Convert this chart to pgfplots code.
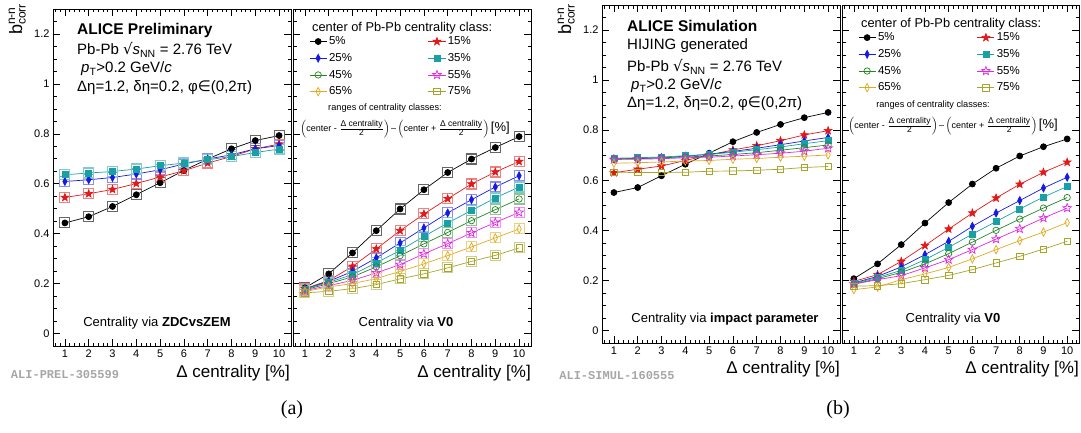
\documentclass[border=0pt]{standalone}
\usepackage{fontspec}
\setmainfont{Liberation Sans}
\newfontfamily\dejavu{DejaVu Sans}
\newfontfamily\monof{Liberation Mono}
\newfontfamily\seriff{Liberation Serif}
\usepackage{pgfplots}
\pgfplotsset{compat=1.18}
\usepackage{pgfplotstable}
\usetikzlibrary{plotmarks}

\newcommand\fs[1]{\fontsize{#1}{#1}\selectfont}

\definecolor{cA}{RGB}{0,0,0}
\definecolor{cB}{RGB}{225,25,25}
\definecolor{cC}{RGB}{25,25,230}
\definecolor{cD}{RGB}{25,160,165}
\definecolor{cE}{RGB}{35,135,35}
\definecolor{cF}{RGB}{225,40,225}
\definecolor{cG}{RGB}{225,170,30}
\definecolor{cH}{RGB}{165,165,40}

% filled and open five-pointed stars
\pgfdeclareplotmark{fstar}{%
  \pgfpathmoveto{\pgfpointpolar{90}{\pgfplotmarksize}}%
  \pgfpathlineto{\pgfpointpolar{126}{0.42\pgfplotmarksize}}%
  \pgfpathlineto{\pgfpointpolar{162}{\pgfplotmarksize}}%
  \pgfpathlineto{\pgfpointpolar{198}{0.42\pgfplotmarksize}}%
  \pgfpathlineto{\pgfpointpolar{234}{\pgfplotmarksize}}%
  \pgfpathlineto{\pgfpointpolar{270}{0.42\pgfplotmarksize}}%
  \pgfpathlineto{\pgfpointpolar{306}{\pgfplotmarksize}}%
  \pgfpathlineto{\pgfpointpolar{342}{0.42\pgfplotmarksize}}%
  \pgfpathlineto{\pgfpointpolar{18}{\pgfplotmarksize}}%
  \pgfpathlineto{\pgfpointpolar{54}{0.42\pgfplotmarksize}}%
  \pgfpathclose\pgfusepathqfillstroke}
\pgfdeclareplotmark{ostar}{%
  \pgfpathmoveto{\pgfpointpolar{90}{\pgfplotmarksize}}%
  \pgfpathlineto{\pgfpointpolar{126}{0.42\pgfplotmarksize}}%
  \pgfpathlineto{\pgfpointpolar{162}{\pgfplotmarksize}}%
  \pgfpathlineto{\pgfpointpolar{198}{0.42\pgfplotmarksize}}%
  \pgfpathlineto{\pgfpointpolar{234}{\pgfplotmarksize}}%
  \pgfpathlineto{\pgfpointpolar{270}{0.42\pgfplotmarksize}}%
  \pgfpathlineto{\pgfpointpolar{306}{\pgfplotmarksize}}%
  \pgfpathlineto{\pgfpointpolar{342}{0.42\pgfplotmarksize}}%
  \pgfpathlineto{\pgfpointpolar{18}{\pgfplotmarksize}}%
  \pgfpathlineto{\pgfpointpolar{54}{0.42\pgfplotmarksize}}%
  \pgfpathclose\pgfusepathqstroke}

\pgfplotsset{
  alice/.style={
    scale only axis, width=238pt, height=337pt, anchor=south west,
    xmin=0.5, xmax=10.5, ymin=-0.05, ymax=1.3,
    xtick={1,2,3,4,5,6,7,8,9,10},
    xticklabels={1,2,3,4,5,6,7,8,9,10},
    minor xtick={0.6,0.8,...,10.4},
    ytick={0,0.2,0.4,0.6,0.8,1,1.2},
    minor ytick={-0.05,0,...,1.3},
    tick align=inside, major tick length=7pt, minor tick length=3.5pt,
    tick style={black, line width=0.6pt},
    axis line style={line width=0.8pt},
    ticklabel style={font=\fs{11}},
    /pgf/number format/assume math mode=true,
  },
  s5/.style={cA, line width=0.7pt, mark=*, mark size=3pt, mark options={solid}},
  s15/.style={cB, line width=0.7pt, mark=fstar, mark size=4pt, mark options={solid}},
  s25/.style={cC, line width=0.7pt, mark=diamond*, mark size=4pt, mark options={solid, xscale=0.7}},
  s35/.style={cD, line width=0.7pt, mark=square*, mark size=3pt, mark options={solid}},
  s45/.style={cE, line width=0.7pt, mark=o, mark size=3.2pt, mark options={solid}},
  s55/.style={cF, line width=0.7pt, mark=ostar, mark size=4.5pt, mark options={solid}},
  s65/.style={cG, line width=0.7pt, mark=diamond, mark size=4.2pt, mark options={solid, xscale=0.7}},
  s75/.style={cH, line width=0.7pt, mark=square, mark size=3.2pt, mark options={solid}},
  bx/.style={only marks, forget plot, mark=square, mark size=5pt, line width=1.1pt},
  b5/.style={bx, black!60},
  b15/.style={bx, cB!55},
  b25/.style={bx, cC!50},
  b35/.style={bx, cD!55},
  b45/.style={bx, cE!50},
  b55/.style={bx, cF!50},
  b65/.style={bx, cG!55},
  b75/.style={bx, cH!55},
  cleg/.style={
    legend columns=2, legend cell align=left,
    legend style={draw=none, fill=none, anchor=north west, font=\fs{11.5},
      row sep=3.2pt,
      /tikz/every even column/.append style={column sep=74pt}},
  },
}

% (a) centrality via ZDCvsZEM
\pgfplotstableread{
x s5 s15 s25 s35
1 0.443 0.545 0.609 0.636
2 0.468 0.560 0.616 0.643
3 0.509 0.577 0.625 0.649
4 0.556 0.601 0.639 0.659
5 0.604 0.627 0.656 0.672
6 0.653 0.652 0.679 0.683
7 0.699 0.683 0.699 0.696
8 0.740 0.709 0.716 0.709
9 0.773 0.740 0.740 0.725
10 0.793 0.759 0.753 0.739
}\tabAL

% (a) centrality via V0
\pgfplotstableread{
x s5 s15 s25 s35 s45 s55 s65 s75
1 0.183 0.180 0.178 0.178 0.175 0.172 0.168 0.163
2 0.239 0.212 0.209 0.205 0.200 0.192 0.187 0.169
3 0.323 0.269 0.249 0.236 0.227 0.213 0.200 0.180
4 0.412 0.339 0.303 0.283 0.267 0.243 0.220 0.196
5 0.499 0.412 0.363 0.333 0.312 0.276 0.249 0.219
6 0.576 0.479 0.423 0.389 0.359 0.319 0.279 0.239
7 0.645 0.540 0.483 0.443 0.405 0.360 0.312 0.263
8 0.699 0.599 0.536 0.493 0.452 0.403 0.347 0.289
9 0.745 0.647 0.587 0.543 0.496 0.445 0.383 0.313
10 0.789 0.689 0.632 0.587 0.539 0.485 0.419 0.343
}\tabAR

% (b) centrality via impact parameter
\pgfplotstableread{
x s5 s15 s25 s35 s45 s55 s65 s75
1 0.551 0.630 0.685 0.688 0.686 0.683 0.668 0.632
2 0.571 0.644 0.686 0.690 0.687 0.684 0.670 0.631
3 0.618 0.657 0.690 0.693 0.690 0.686 0.673 0.631
4 0.664 0.679 0.696 0.698 0.693 0.690 0.677 0.632
5 0.708 0.701 0.704 0.703 0.697 0.692 0.679 0.636
6 0.754 0.721 0.715 0.712 0.703 0.697 0.684 0.637
7 0.791 0.738 0.728 0.722 0.710 0.702 0.687 0.640
8 0.823 0.758 0.742 0.733 0.720 0.708 0.692 0.644
9 0.850 0.781 0.757 0.746 0.730 0.716 0.696 0.651
10 0.871 0.798 0.771 0.758 0.741 0.728 0.701 0.655
}\tabBL

% (b) centrality via V0
\pgfplotstableread{
x s5 s15 s25 s35 s45 s55 s65 s75
1 0.207 0.196 0.190 0.188 0.185 0.185 0.163 0.177
2 0.266 0.223 0.216 0.212 0.207 0.203 0.174 0.179
3 0.343 0.276 0.254 0.240 0.232 0.219 0.203 0.187
4 0.429 0.339 0.303 0.283 0.266 0.250 0.226 0.203
5 0.511 0.405 0.356 0.332 0.307 0.283 0.252 0.220
6 0.585 0.469 0.416 0.385 0.353 0.323 0.286 0.243
7 0.648 0.529 0.469 0.435 0.400 0.365 0.323 0.270
8 0.697 0.584 0.519 0.485 0.445 0.406 0.359 0.296
9 0.734 0.632 0.569 0.533 0.489 0.449 0.393 0.325
10 0.765 0.672 0.612 0.575 0.531 0.489 0.431 0.356
}\tabBR

\newcommand\ylab{{\fs{18}b}\rlap{\raisebox{7pt}{\fs{12}n-n}}\raisebox{-3.5pt}{\fs{12}corr}}
\newcommand\xlab{\fs{17}Δ centrality [\%]}
\newcommand\rs{{\dejavu √}\textit{s}\textsubscript{NN}}
\newcommand\cuts{Δη=1.2, δη=0.2, φ{\dejavu ∈}(0,2π)}
\newcommand\fr{\frac{\mbox{\fs{8.5}Δ centrality}}{\mbox{\fs{8.5}2}}}
\newcommand\rng{\fs{9}$\left(\mbox{center - }\fr\right)$\,–\,$\left(\mbox{center + }\fr\right)$\,{\fs{13}[\%]}}

\begin{document}
\begin{tikzpicture}
\useasboundingbox (0,0) rectangle (1081pt,432pt);

% ---- (a) left
\begin{axis}[alice, at={(53pt,86pt)}, yticklabels={0,0.2,0.4,0.6,0.8,1,1.2}]
\pgfplotsinvokeforeach{5,15,25,35}{\addplot[b#1] table[x=x,y=s#1]{\tabAL};}
\pgfplotsinvokeforeach{5,15,25,35}{\addplot[s#1] table[x=x,y=s#1]{\tabAL};}
\end{axis}

% ---- (a) right
\begin{axis}[alice, at={(293pt,86pt)}, yticklabels={}, cleg,
  legend style={at={(0.055,0.93)}},
  legend entries={5\%,15\%,25\%,35\%,45\%,55\%,65\%,75\%}]
\pgfplotsinvokeforeach{5,15,25,35,45,55,65,75}{\addplot[b#1] table[x=x,y=s#1]{\tabAR};}
\pgfplotsinvokeforeach{5,15,25,35,45,55,65,75}{\addplot[s#1] table[x=x,y=s#1]{\tabAR};}
\end{axis}

% ---- (b) left
\begin{axis}[alice, at={(602pt,89pt)}, height=338pt, yticklabels={0,0.2,0.4,0.6,0.8,1,1.2}]
\pgfplotsinvokeforeach{5,15,25,35,45,55,65,75}{\addplot[s#1] table[x=x,y=s#1]{\tabBL};}
\end{axis}

% ---- (b) right
\begin{axis}[alice, at={(842pt,89pt)}, width=237pt, height=338pt, yticklabels={}, cleg,
  legend style={at={(0.055,0.93)}},
  legend entries={5\%,15\%,25\%,35\%,45\%,55\%,65\%,75\%}]
\pgfplotsinvokeforeach{5,15,25,35,45,55,65,75}{\addplot[s#1] table[x=x,y=s#1]{\tabBR};}
\end{axis}

% ---- texts (a)
\node[rotate=90, anchor=base west, inner sep=0] at (22pt,397pt) {\ylab};
\node[anchor=west, inner sep=0, font=\fs{15.5}\bfseries] at (77pt,402pt) {ALICE Preliminary};
\node[anchor=west, inner sep=0, font=\fs{15}] at (77pt,382pt) {Pb-Pb \rs\ = 2.76 TeV};
\node[anchor=west, inner sep=0, font=\fs{15}] at (81pt,363pt) {\textit{p}\textsubscript{T}>0.2 GeV/\textit{c}};
\node[anchor=west, inner sep=0, font=\fs{15}] at (77pt,344pt) {\cuts};
\node[anchor=west, inner sep=0, font=\fs{12.8}] at (312pt,404pt) {center of Pb-Pb centrality class:};
\node[inner sep=0, font=\fs{9.2}] at (385pt,324pt) {ranges of centrality classes:};
\node[inner sep=0] at (405pt,303pt) {\rng};
\node[inner sep=0, font=\fs{13}] at (157pt,109pt) {Centrality via \textbf{ZDCvsZEM}};
\node[inner sep=0, font=\fs{13}] at (406pt,109pt) {Centrality via \textbf{V0}};
\node[anchor=east, inner sep=0] at (290pt,59pt) {\xlab};
\node[anchor=east, inner sep=0] at (531pt,59pt) {\xlab};
\node[inner sep=0, font=\monof\fs{12}\bfseries, text=black!35] at (65pt,57pt) {ALI-PREL-305599};
\node[inner sep=0, font=\seriff\fs{20}] at (292pt,22pt) {(a)};

% ---- texts (b)
\node[rotate=90, anchor=base west, inner sep=0] at (571pt,397pt) {\ylab};
\node[anchor=west, inner sep=0, font=\fs{15.5}\bfseries] at (627pt,406pt) {ALICE Simulation};
\node[anchor=west, inner sep=0, font=\fs{15}] at (627pt,386pt) {HIJING generated};
\node[anchor=west, inner sep=0, font=\fs{15}] at (627pt,365pt) {Pb-Pb \rs\ = 2.76 TeV};
\node[anchor=west, inner sep=0, font=\fs{15}] at (631pt,346pt) {\textit{p}\textsubscript{T}>0.2 GeV/\textit{c}};
\node[anchor=west, inner sep=0, font=\fs{15}] at (627pt,328pt) {\cuts};
\node[anchor=west, inner sep=0, font=\fs{12.8}] at (861pt,408pt) {center of Pb-Pb centrality class:};
\node[inner sep=0, font=\fs{9.2}] at (933pt,327pt) {ranges of centrality classes:};
\node[inner sep=0] at (953pt,306pt) {\rng};
\node[inner sep=0, font=\fs{13}] at (725pt,113pt) {Centrality via \textbf{impact parameter}};
\node[inner sep=0, font=\fs{13}] at (953pt,113pt) {Centrality via \textbf{V0}};
\node[anchor=east, inner sep=0] at (840pt,63pt) {\xlab};
\node[anchor=east, inner sep=0] at (1079pt,63pt) {\xlab};
\node[inner sep=0, font=\monof\fs{12}\bfseries, text=black!35] at (617pt,56pt) {ALI-SIMUL-160555};
\node[inner sep=0, font=\seriff\fs{20}] at (838pt,22pt) {(b)};
\end{tikzpicture}
\end{document}
